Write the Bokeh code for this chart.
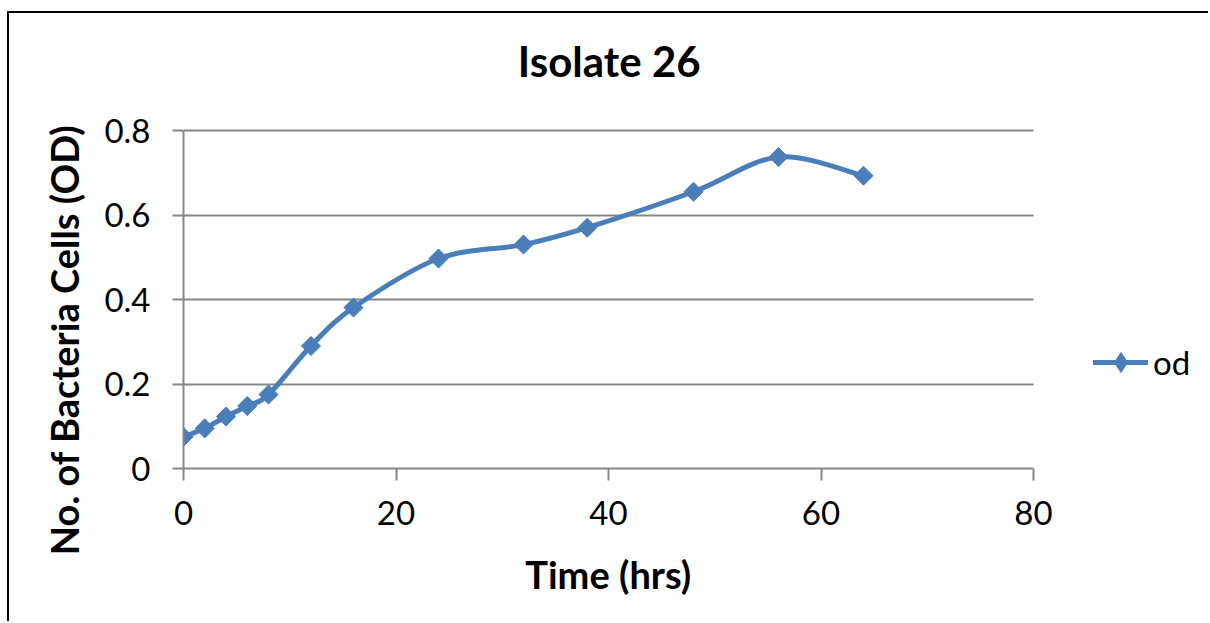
import numpy as np
from bokeh.plotting import figure
from bokeh.models import Range1d, FixedTicker, Legend, LegendItem, ColumnDataSource, Grid
from bokeh.embed import file_html
from bokeh.resources import INLINE

# ---- data ----
time_hrs = [0, 2, 4, 6, 8, 12, 16, 24, 32, 38, 48, 56, 64]
od = [0.075, 0.095, 0.123, 0.148, 0.175, 0.290, 0.381, 0.497, 0.530, 0.570, 0.655, 0.737, 0.693]
x_ticks = [0, 20, 40, 60, 80]
y_ticks = [0, 0.2, 0.4, 0.6, 0.8]
y_tick_labels = ["0", "0.2", "0.4", "0.6", "0.8"]
series_name = "od"
title_text = "Isolate 26"
x_label = "Time (hrs)"
y_label = "No. of Bacteria Cells (OD)"

BLUE = "#4A7EBB"
GRAY = "#878787"
FONT = "Lato"
NBSP = "\u00a0"

# layout (pixels)
CANVAS_W, CANVAS_H = 1201, 610
FRAME_L = 174
AXIS_W = 850            # pixel width of the 0..80 axis
AXIS_H = 338            # pixel height of the 0..0.8 axis
FRAME_T = 87            # frame reaches a bit above the 0.8 line
FRAME_R_MARGIN = 2
FRAME_B_MARGIN = 155
frame_w = CANVAS_W - FRAME_L - FRAME_R_MARGIN
frame_h = CANVAS_H - FRAME_T - FRAME_B_MARGIN
x_end = x_ticks[-1] * frame_w / AXIS_W
y_end = y_ticks[-1] * frame_h / AXIS_H

# smooth line (Excel-like Catmull-Rom -> cubic Bezier segments)
xs = np.array(time_hrs, dtype=float)
ys = np.array(od, dtype=float)
n = len(xs)
px = np.concatenate([[xs[0]], xs, [xs[-1]]])
py = np.concatenate([[ys[0]], ys, [ys[-1]]])
seg = dict(x0=[], y0=[], x1=[], y1=[], cx0=[], cy0=[], cx1=[], cy1=[])
for i in range(n - 1):
    j = i + 1
    seg["x0"].append(px[j]); seg["y0"].append(py[j])
    seg["x1"].append(px[j + 1]); seg["y1"].append(py[j + 1])
    seg["cx0"].append(px[j] + (px[j + 1] - px[j - 1]) / 6)
    seg["cy0"].append(py[j] + (py[j + 1] - py[j - 1]) / 6)
    seg["cx1"].append(px[j + 1] - (px[j + 2] - px[j]) / 6)
    seg["cy1"].append(py[j + 1] - (py[j + 2] - py[j]) / 6)

p = figure(width=CANVAS_W, height=CANVAS_H, output_backend="svg", toolbar_location=None,
           x_range=Range1d(0, x_end), y_range=Range1d(0, y_end),
           min_border_left=FRAME_L, min_border_right=FRAME_R_MARGIN,
           min_border_top=FRAME_T, min_border_bottom=FRAME_B_MARGIN)
p.styles = {"margin-left": "7px", "margin-top": "11px",
            "border-left": "2px solid #000", "border-top": "2px solid #000"}
p.outline_line_color = None
p.background_fill_color = "white"
p.border_fill_color = "white"

# title centred over the 0..80 axis (frame is wider to host the legend)
p.title.text = title_text + NBSP * 17
p.title.align = "center"
p.title.vertical_align = "top"
p.title.text_font = FONT
p.title.text_font_size = "42px"
p.title.text_font_style = "bold"
p.title.text_color = "black"
p.title.standoff = 26

# horizontal grid lines limited to the 0..80 axis
if "cross_bounds" in Grid.properties():
    p.xgrid.visible = False
    p.ygrid.ticker = FixedTicker(ticks=y_ticks)
    p.ygrid.cross_bounds = (x_ticks[0], x_ticks[-1])
    p.ygrid.grid_line_color = GRAY
    p.ygrid.grid_line_width = 2
else:
    p.xgrid.visible = False
    p.ygrid.visible = False
    p.segment(x0=[x_ticks[0]] * len(y_ticks), y0=y_ticks,
              x1=[x_ticks[-1]] * len(y_ticks), y1=y_ticks,
              line_color=GRAY, line_width=2, level="underlay")

for ax in (p.xaxis[0], p.yaxis[0]):
    ax.axis_line_color = GRAY
    ax.axis_line_width = 2
    ax.major_tick_line_color = GRAY
    ax.major_tick_line_width = 2
    ax.major_tick_in = 0
    ax.minor_tick_line_color = None
    ax.major_label_text_font = FONT
    ax.major_label_text_font_size = "33px"
    ax.major_label_text_color = "black"
    ax.axis_label_text_font = FONT
    ax.axis_label_text_font_size = "38px"
    ax.axis_label_text_font_style = "bold"
    ax.axis_label_text_color = "black"

p.xaxis.ticker = FixedTicker(ticks=x_ticks)
p.xaxis.bounds = (x_ticks[0], x_ticks[-1])
p.xaxis.major_tick_out = 12
p.xaxis.major_label_standoff = 20
p.xaxis.axis_label = x_label + NBSP * 19
p.xaxis.axis_label_standoff = 23

p.yaxis.ticker = FixedTicker(ticks=y_ticks)
p.yaxis.bounds = (y_ticks[0], y_ticks[-1])
p.yaxis.major_label_overrides = {t: s for t, s in zip(y_ticks, y_tick_labels)}
p.yaxis.major_tick_out = 11
p.yaxis.major_label_standoff = 22
p.yaxis.axis_label = y_label + NBSP * 12
p.yaxis.axis_label_standoff = 14

src = ColumnDataSource(seg)
curve = p.bezier(x0="x0", y0="y0", x1="x1", y1="y1", cx0="cx0", cy0="cy0",
                 cx1="cx1", cy1="cy1", source=src, line_color=BLUE, line_width=5,
                 line_cap="round")
pts = p.scatter(x=time_hrs, y=od, marker="square", angle=np.pi / 4, size=13.5,
                fill_color=BLUE, line_color=BLUE, line_width=1)
# legend-only diamond, hidden inside the first data marker
leg_mark = p.scatter(x=time_hrs[:1], y=od[:1], marker="diamond", size=18,
                     fill_color=BLUE, line_color=BLUE, line_width=1)

legend = Legend(items=[LegendItem(label=series_name, renderers=[curve, leg_mark])],
                location=(1093 - 183, 81), orientation="vertical",
                glyph_width=55, glyph_height=50, label_standoff=5,
                label_text_font=FONT, label_text_font_size="33px",
                label_text_color="black", padding=0, margin=0, spacing=0,
                border_line_color=None, background_fill_alpha=0)
p.add_layout(legend, "center")

open("out.html", "w").write(file_html(p, INLINE))
